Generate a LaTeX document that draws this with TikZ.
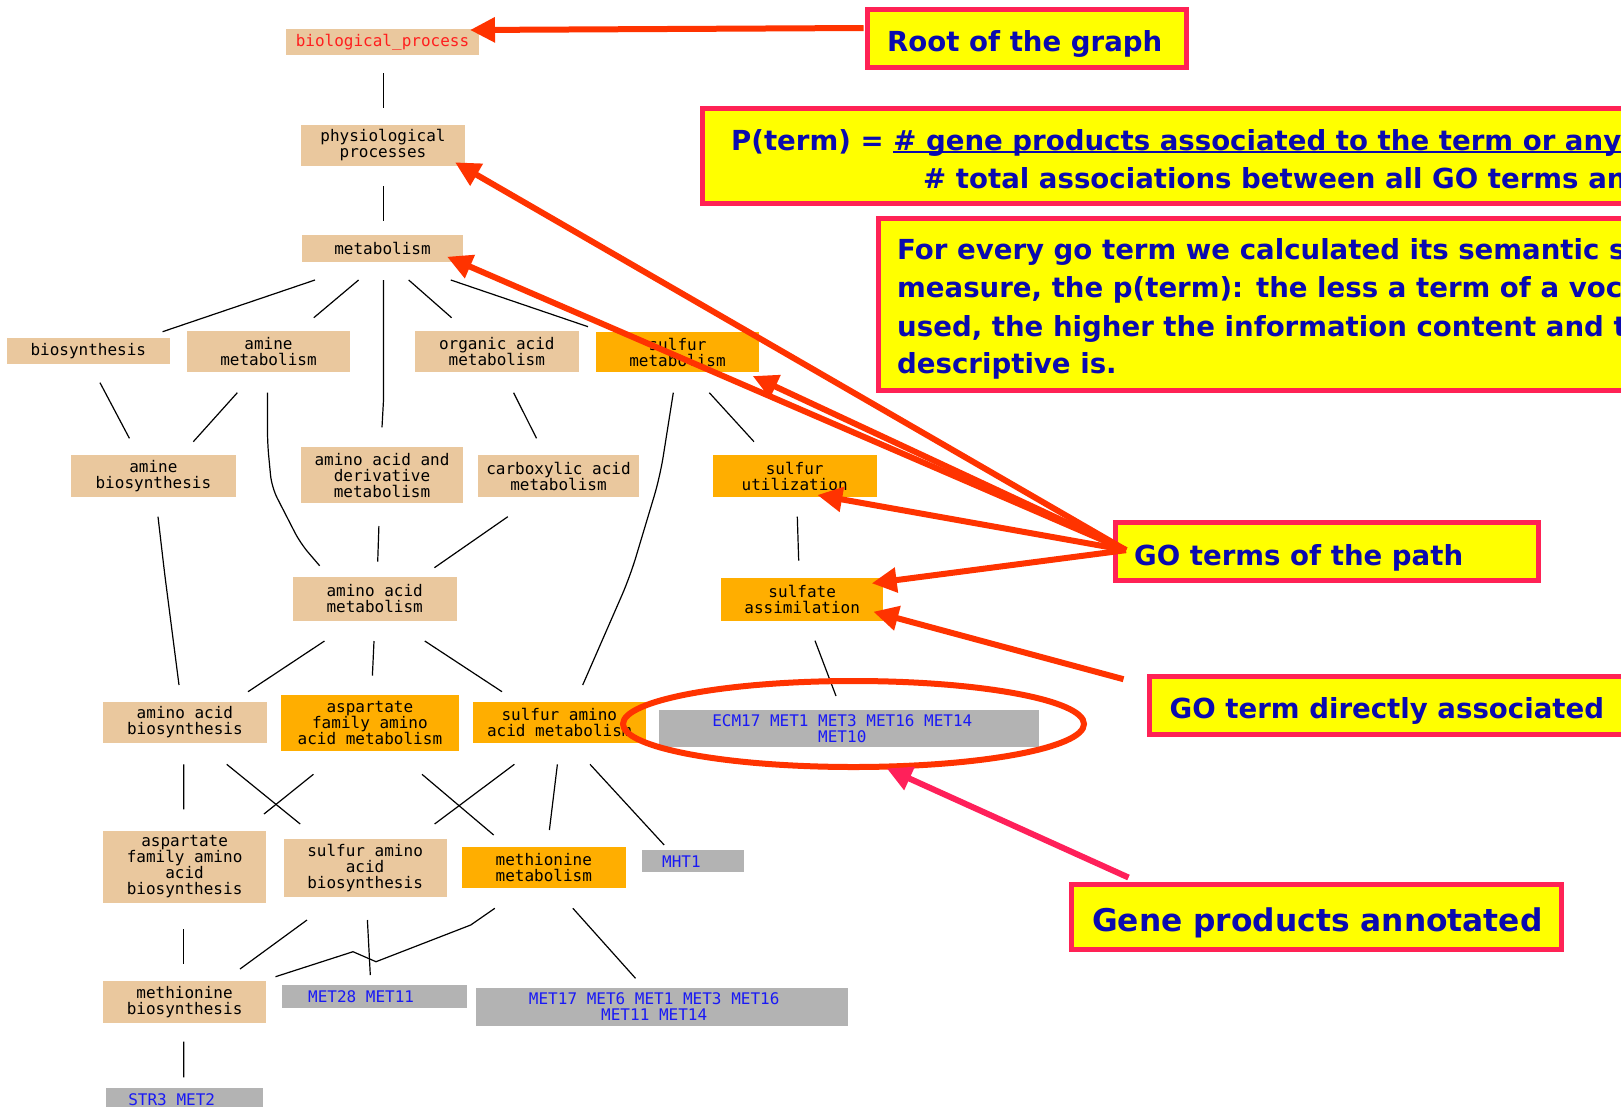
\documentclass[tikz,border=0pt]{standalone}
\usepackage{fontspec}
\usetikzlibrary{calc,arrows.meta,shapes.geometric}
\newfontfamily\gomono{DejaVu Sans Mono}
\newfontfamily\callfam{DejaVu Sans}
\definecolor{tanc}{RGB}{234,200,158}
\definecolor{orc}{RGB}{255,174,0}
\definecolor{greyc}{RGB}{179,179,179}
\definecolor{genec}{RGB}{25,25,245}
\definecolor{bpred}{RGB}{255,30,30}
\definecolor{arrowred}{RGB}{255,51,0}
\definecolor{pinkred}{RGB}{255,32,90}
\definecolor{callborder}{RGB}{255,34,85}
\definecolor{callyellow}{RGB}{255,255,0}
\definecolor{callblue}{RGB}{10,10,175}
\newcommand\gofnt{\fontsize{16pt}{16pt}\selectfont\gomono}
\newcommand\callfnt{\fontsize{27.6pt}{33pt}\selectfont\callfam\bfseries}
\newcommand\bigcallfnt{\fontsize{31.3pt}{36pt}\selectfont\callfam\bfseries}
\newcommand\myul[1]{{\setbox0\hbox{#1}\rlap{\rule[-3pt]{\wd0}{1.6pt}}\box0}}
\begin{document}
\begin{tikzpicture}[x=1pt,y=-1pt,
  gonode/.style={draw=none, inner sep=0pt, align=center, font=\gofnt, text=black},
  tan/.style={gonode, fill=tanc},
  orng/.style={gonode, fill=orc},
  gene/.style={gonode, fill=greyc, text=genec},
  edge/.style={draw=black, line width=1.2pt},
  callbox/.style={draw=callborder, fill=callyellow, line width=5pt, inner sep=0pt},
  calltext/.style={font=\callfnt, text=callblue, anchor=base west, inner sep=0pt},
  pointer/.style={draw=arrowred, line width=6pt, -{Triangle[length=25pt,width=24pt]}},
  pinkpointer/.style={draw=pinkred, line width=6pt, -{Triangle[length=25pt,width=24pt]}}]
\useasboundingbox (0,0) rectangle (1621,1106);
\clip (0,0) rectangle (1621,1106);
\fill[white] (0,0) rectangle (1621,1106);

% GO graph nodes
\node[tan, minimum width=193pt, minimum height=26pt] (bp) at (382.5,42) {\color{bpred}biological\_process};
\node[tan, minimum width=164pt, minimum height=41pt] (phys) at (383,145.5) {physiological\\processes};
\node[tan, minimum width=161pt, minimum height=27pt] (metab) at (382.5,248) {metabolism};
\node[tan, minimum width=163.5pt, minimum height=26.6pt] (biosyn) at (88.3,351) {biosynthesis};
\node[tan, minimum width=163pt, minimum height=41.3pt] (aminemet) at (268.5,351.7) {amine\\metabolism};
\node[tan, minimum width=163.6pt, minimum height=41.3pt] (orgacid) at (496.8,351.7) {organic acid\\metabolism};
\node[orng, minimum width=163.6pt, minimum height=40.6pt] (sulfmet) at (677.5,352) {sulfur\\metabolism};
\node[tan, minimum width=165pt, minimum height=41.7pt] (aminebio) at (153.4,476.2) {amine\\biosynthesis};
\node[tan, minimum width=162pt, minimum height=56pt] (aaderiv) at (382,475.3) {amino acid and\\derivative\\metabolism};
\node[tan, minimum width=161pt, minimum height=41.7pt] (carbox) at (558.5,476.2) {carboxylic acid\\metabolism};
\node[orng, minimum width=164pt, minimum height=41.4pt] (sulfutil) at (794.7,476) {sulfur\\utilization};
\node[tan, minimum width=163.8pt, minimum height=43.4pt] (aamet) at (374.7,599) {amino acid\\metabolism};
\node[orng, minimum width=162.3pt, minimum height=43pt] (sulfassim) at (802.2,599.2) {sulfate\\assimilation};
\node[tan, minimum width=163.7pt, minimum height=41.6pt] (aabio) at (184.9,722.5) {amino acid\\biosynthesis};
\node[orng, minimum width=177.2pt, minimum height=55.7pt] (aspmet) at (369.9,723.2) {aspartate\\family amino\\acid metabolism};
\node[orng, minimum width=173.5pt, minimum height=41.6pt] (sulfaamet) at (559.3,722.5) {sulfur amino\\acid metabolism};
\node[gene, minimum width=380pt, minimum height=36.7pt] (ecm) at (849.3,728.3) {ECM17 MET1 MET3 MET16 MET14\hspace*{14pt}\\MET10\hspace*{14pt}};
\node[tan, minimum width=163.6pt, minimum height=72.6pt] (aspbio) at (184.6,867) {aspartate\\family amino\\acid\\biosynthesis};
\node[tan, minimum width=163pt, minimum height=57.7pt] (sulfaabio) at (365.1,867.8) {sulfur amino\\acid\\biosynthesis};
\node[orng, minimum width=163.7pt, minimum height=41.6pt] (methmet) at (543.8,867.5) {methionine\\metabolism};
\node[gene, minimum width=102pt, minimum height=22.3pt] (mht1) at (693.4,861.2) {MHT1\hspace*{24pt}};
\node[tan, minimum width=163.6pt, minimum height=42pt] (methbio) at (184.6,1001.7) {methionine\\biosynthesis};
\node[gene, minimum width=185pt, minimum height=22.4pt] (met28) at (374.1,996.5) {MET28 MET11\hspace*{26pt}};
\node[gene, minimum width=371.5pt, minimum height=37.4pt] (met17) at (662.2,1007) {MET17 MET6 MET1 MET3 MET16\hspace*{16pt}\\MET11 MET14\hspace*{16pt}};
\node[gene, minimum width=157.5pt, minimum height=22.4pt] (str3) at (184.7,1099.5) {STR3 MET2\hspace*{26pt}};

% GO graph edges
\draw[edge] ($(bp.center)+(1,31.3)$) -- ($(phys.center)+(0.5,-37.2)$);
\draw[edge] ($(phys.center)+(0.5,40.5)$) -- ($(metab.center)+(1,-27)$);
\draw[edge] ($(metab.center)+(-67.5,32)$) -- ($(biosyn.center)+(74.3,-19.3)$);
\draw[edge] ($(metab.center)+(-23.9,32)$) -- ($(aminemet.center)+(45.3,-34)$);
\draw[edge] ($(metab.center)+(1,32)$) -- ($(aaderiv.center)+(1.5,-75.3)$) -- ($(aaderiv.center)+(0,-48)$);
\draw[edge] ($(metab.center)+(26.2,32)$) -- ($(orgacid.center)+(-45.2,-34)$);
\draw[edge] ($(metab.center)+(68.3,32)$) -- ($(sulfmet.center)+(-89.5,-25.3)$);
\draw[edge] ($(biosyn.center)+(11.7,31.7)$) -- ($(aminebio.center)+(-24,-37.9)$);
\draw[edge] ($(aminemet.center)+(-31.2,41)$) -- ($(aminebio.center)+(39.9,-34.5)$);
\draw[edge, rounded corners=12pt] ($(aminemet.center)+(-1,41)$) -- ($(aminemet.center)+(-1,91.6)$) -- ($(aminemet.center)+(3.2,135.6)$) -- ($(aamet.center)+(-74.3,-55.7)$) -- ($(aamet.center)+(-55.1,-33.3)$);
\draw[edge] ($(orgacid.center)+(16.8,41)$) -- ($(carbox.center)+(-22,-37.9)$);
\draw[edge, rounded corners=20pt] ($(sulfmet.center)+(-4.2,40.7)$) -- ($(sulfmet.center)+(-17.5,124.7)$) -- ($(sulfaamet.center)+(70.7,-145.8)$) -- ($(sulfaamet.center)+(23.4,-37.5)$);
\draw[edge] ($(sulfmet.center)+(31.8,40.7)$) -- ($(sulfutil.center)+(-40.7,-34.3)$);
\draw[edge, rounded corners=12pt] ($(aminebio.center)+(4.6,40.5)$) -- ($(aminebio.center)+(11.2,97.1)$) -- ($(aabio.center)+(-5.9,-37.5)$);
\draw[edge] ($(aaderiv.center)+(-3.1,50.7)$) -- ($(aamet.center)+(3,-37.3)$);
\draw[edge] ($(carbox.center)+(-50.7,40.5)$) -- ($(aamet.center)+(59.7,-31.3)$);
\draw[edge] ($(sulfutil.center)+(2.6,40.7)$) -- ($(sulfassim.center)+(-3.5,-38.5)$);
\draw[edge] ($(aamet.center)+(-50.2,42)$) -- ($(aabio.center)+(63.1,-30.8)$);
\draw[edge] ($(aamet.center)+(-0.7,42)$) -- ($(aspmet.center)+(2.5,-47.5)$);
\draw[edge] ($(aamet.center)+(50.1,42)$) -- ($(sulfaamet.center)+(-57.3,-30.8)$);
\draw[edge] ($(sulfassim.center)+(12.8,41.5)$) -- ($(ecm.center)+(-13.3,-32.3)$);
\draw[edge] ($(aabio.center)+(-1.2,41.8)$) -- ($(aspbio.center)+(-0.9,-57.7)$);
\draw[edge] ($(aabio.center)+(41.8,41.8)$) -- ($(sulfaabio.center)+(-64.9,-43.8)$);
\draw[edge] ($(aspmet.center)+(-56.5,51.1)$) -- ($(aspbio.center)+(79.4,-53)$);
\draw[edge] ($(aspmet.center)+(52.1,51.1)$) -- ($(methmet.center)+(-50.1,-32.5)$);
\draw[edge] ($(sulfaamet.center)+(-44.9,41.8)$) -- ($(sulfaabio.center)+(69.5,-43.8)$);
\draw[edge] ($(sulfaamet.center)+(-1.9,41.8)$) -- ($(methmet.center)+(5.6,-37.5)$);
\draw[edge] ($(sulfaamet.center)+(30.7,41.8)$) -- ($(mht1.center)+(-29.2,-16.2)$);
\draw[edge] ($(aspbio.center)+(-0.9,62)$) -- ($(methbio.center)+(-0.9,-37.7)$);
\draw[edge] ($(sulfaabio.center)+(-58.1,52.2)$) -- ($(methbio.center)+(55.4,-32.7)$);
\draw[edge] ($(sulfaabio.center)+(2.3,52.2)$) -- ($(met28.center)+(-3.8,-21.5)$);
\draw[edge] ($(methmet.center)+(-49,40.8)$) -- ($(methmet.center)+(-73.1,57.5)$) -- ($(met28.center)+(1.9,-34.8)$) -- ($(met28.center)+(-21.1,-44.8)$) -- ($(methbio.center)+(90.9,-25)$);
\draw[edge] ($(methmet.center)+(29.1,40.8)$) -- ($(met17.center)+(-26.7,-28.7)$);
\draw[edge] ($(methbio.center)+(-0.9,40)$) -- ($(str3.center)+(-1,-22.2)$);

% Callout boxes
\node[callbox, minimum width=319pt, minimum height=58.3pt] (rootbox) at (1027,38.4) {};
\node[calltext] (rootT) at (887,51.7) {Root of the graph};
\node[callbox, minimum width=997.5pt, minimum height=95pt] (pbox) at (1201.25,156) {};
\node[calltext] (pT1) at (731,150) {P(term) = \myul{\# gene products associated to the term or any}};
\node[calltext] (pT2) at (923,188.3) {\# total associations between all GO terms an};
\node[callbox, minimum width=821.5pt, minimum height=172.3pt] (forbox) at (1289.25,304.65) {};
\node[calltext] (f1) at (897,259.3) {For every go term we calculated its semantic s};
\node[calltext] (f2) at (897,297.7) {measure, the p(term): the less a term of a voc};
\node[calltext] (f3) at (897,336.7) {used, the higher the information content and t};
\node[calltext] (f4) at (897,373.3) {descriptive is.};
\node[callbox, minimum width=423pt, minimum height=58.3pt] (pathbox) at (1327,551.65) {};
\node[calltext] (pathT) at (1134,565) {GO terms of the path};
\node[callbox, minimum width=550.5pt, minimum height=58.3pt] (directbox) at (1424.75,705.65) {};
\node[calltext] (directT) at (1169.5,718.3) {GO term directly associated};
\node[callbox, minimum width=490pt, minimum height=65pt] (genebox) at (1316.5,917) {};
\node[calltext, font=\bigcallfnt] (geneT) at (1092,931.7) {Gene products annotated};

% highlight ellipse
\node[draw=arrowred, line width=6pt, ellipse, minimum width=461pt, minimum height=86pt, inner sep=0pt] (ell) at (853.5,724) {};

% pointers
\coordinate (conv) at ($(pathbox.west)+(13,-1.5)$);
\draw[pointer] ($(rootbox.west)+(-1.5,-10.4)$) -- ($(bp.center)+(87.5,-12)$);
\draw[pointer] (conv) -- ($(phys.center)+(72,16.8)$);
\draw[pointer] (conv) -- ($(metab.center)+(64.5,8.7)$);
\draw[pointer] (conv) -- ($(sulfmet.center)+(75.2,24)$);
\draw[pointer] (conv) -- ($(sulfutil.center)+(22.6,19)$);
\draw[pointer] (conv) -- ($(sulfassim.center)+(69.5,-15.9)$);
\draw[pointer] ($(directbox.north west)+(-23.5,5.2)$) -- ($(sulfassim.center)+(71.1,12.5)$);
\draw[pinkpointer] ($(genebox.north west)+(59.5,-4.5)$) -- ($(ell.center)+(33.2,44.3)$);
\end{tikzpicture}
\end{document}
